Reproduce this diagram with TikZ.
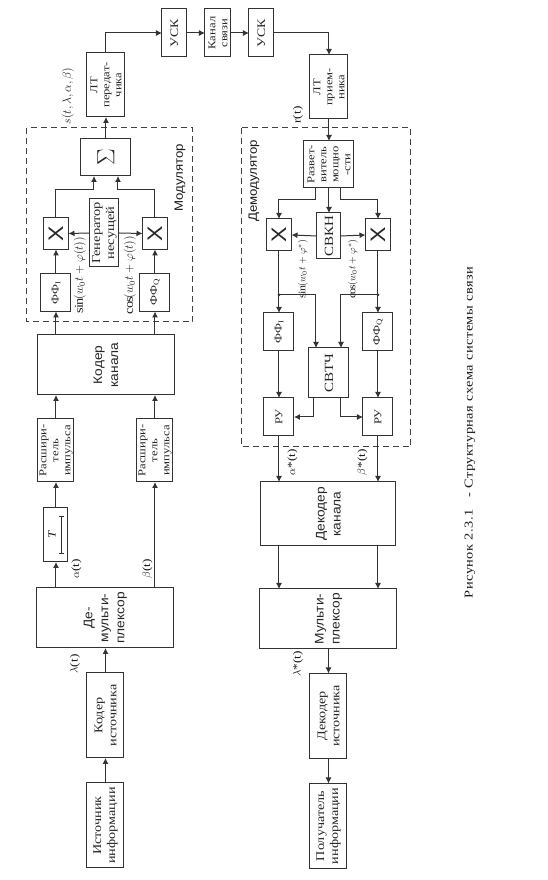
\documentclass[tikz,border=0pt]{standalone}
\usepackage{fontspec}
\setmainfont[FakeStretch=1.2]{Liberation Serif}
\setsansfont[FakeStretch=1.1]{Liberation Sans}
\usepackage{xcolor}
\usepackage{tikz}
\usetikzlibrary{arrows.meta,positioning,calc}
\begin{document}
\begin{tikzpicture}[
  x=1pt, y=1pt, rotate=90, transform shape,
  node distance=24pt and 25pt,
  box/.style={draw=black!80, line width=1pt, align=center, outer sep=0pt, inner sep=1pt, text=black!85, font=\fontsize{10.5}{12}\selectfont},
  srcbox/.style={box, minimum width=85pt, minimum height=37pt, font=\fontsize{11.8}{14}\selectfont},
  bigbox/.style={box, minimum width=60pt, minimum height=137pt, font=\sffamily\fontsize{12.5}{16}\selectfont},
  expbox/.style={box, minimum width=63pt, minimum height=36pt},
  filterbox/.style={box, minimum width=38pt, minimum height=30pt},
  mixbox/.style={box, minimum width=32pt, minimum height=25pt, font=\sffamily\fontsize{21}{21}\selectfont},
  linkbox/.style={box, minimum width=48pt, minimum height=25pt},
  dashbox/.style={draw=black!75, line width=1pt, dash pattern=on 6pt off 4pt, outer sep=0pt},
  sig/.style={inner sep=0pt, text=black!90, font=\fontsize{11}{12}\selectfont},
  arrow/.style={-{Latex[length=6pt,width=6pt]}, draw=black!80, line width=1pt},
  wire/.style={draw=black!80, line width=1pt}
]
\useasboundingbox (0,0) rectangle (880,548);

\node[dashbox, minimum width=194pt, minimum height=166pt] (modbox) at (655,438) {};
\node[dashbox, minimum width=319pt, minimum height=169pt] (dembox) at (592.5,221.5) {};
\node[sig, font=\sffamily\fontsize{12}{13}\selectfont] (modlabel) at (702,368) {Модулятор};
\node[sig, font=\sffamily\fontsize{12}{13}\selectfont] (demlabel) at (699,294) {Демодулятор};

\node[srcbox] (source) at (54.5,442.5) {Источник\\информации};
\node[srcbox, right=25pt of source] (srcenc) {Кодер\\источника};
\node[bigbox, right=25pt of srcenc] (demux) {Де-\\мульти-\\плексор};
\node[box, minimum width=54pt, minimum height=24pt] (delay) at (345,492) {};
\node[sig, font=\itshape\fontsize{11}{12}\selectfont] (delaytxt) at ([yshift=4pt]delay.center) {T};
\node[expbox] (expI) at (429.5,492) {Расшири-\\тель\\импульса};
\node[expbox] (expQ) at (429.5,393) {Расшири-\\тель\\импульса};
\node[bigbox] (chenc) at (515,442) {Кодер\\канала};
\node[filterbox] (ffI) at (587.5,492) {ФФ\textsubscript{I}};
\node[filterbox] (ffQ) at (587.5,393) {ФФ\textsubscript{Q}};
\node[mixbox, right=24pt of ffI] (mixI) {X};
\node[mixbox, right=24pt of ffQ] (mixQ) {X};
\node[box, minimum width=68pt, minimum height=29pt, font=\fontsize{12}{14}\selectfont] (carrier) at (647,443.5) {Генератор\\несущей};
\node[box, minimum width=37pt, minimum height=50pt, font=\fontsize{29}{29}\selectfont] (sum) at (722.5,442) {$\Sigma$};
\node[box, minimum width=64pt, minimum height=38pt, right=22pt of sum] (lttx) {ЛТ\\передат-\\чика};
\node[linkbox, font=\fontsize{11.5}{13}\selectfont] (uskI) at (847,373.5) {УСК};
\node[linkbox, minimum height=26pt] (chan) at (847,330) {Канал\\связи};
\node[linkbox, font=\fontsize{11.5}{13}\selectfont] (uskQ) at (847,286.5) {УСК};

\node[box, minimum width=64pt, minimum height=38pt] (ltrx) at (793,219) {ЛТ\\прием-\\ника};
\node[box, minimum width=47pt, minimum height=50pt, left=22pt of ltrx] (split) {Развет-\\витель\\мощно\\-сти};
\node[box, minimum width=46pt, minimum height=24pt, font=\fontsize{12.5}{14}\selectfont] (pll) at (644,219) {СВКН};
\node[mixbox] (demI) at (645,269) {X};
\node[mixbox] (demQ) at (645,170) {X};
\node[filterbox] (dffI) at (548,269) {ФФ\textsubscript{I}};
\node[filterbox] (dffQ) at (548,170) {ФФ\textsubscript{Q}};
\node[box, minimum width=50pt, minimum height=40pt, font=\fontsize{12.5}{14}\selectfont] (sync) at (507,219) {СВТЧ};
\node[filterbox] (ruI) at (463,269) {РУ};
\node[filterbox] (ruQ) at (463,170) {РУ};
\node[bigbox, minimum width=64pt, minimum height=135pt] (chdec) at (366,219.5) {Декодер\\канала};
\node[bigbox] (mux) at (261,219.5) {Мульти-\\плексор};
\node[srcbox] (srcdec) at (164,219.5) {Декодер\\источника};
\node[srcbox, left=25pt of srcdec] (sink) {Получатель\\информации};

\node[sig, font=\fontsize{12}{13}\selectfont] (sinmod) at (605,468) {$\sin(w_0 t+\varphi(t))$};
\node[sig, font=\fontsize{12}{13}\selectfont] (cosmod) at (605,418) {$\cos(w_0 t+\varphi(t))$};
\node[sig, font=\fontsize{10}{11}\selectfont] (sindem) at (611,245) {$\sin(w_0 t+\varphi^{*})$};
\node[sig, font=\fontsize{10}{11}\selectfont] (cosdem) at (611,195) {$\cos(w_0 t+\varphi^{*})$};
\node[sig, font=\fontsize{12.5}{13}\selectfont] (stx) at (784,480) {$s(t,\lambda,\alpha,\beta)$};
\node[sig] (rrx) at (765,250) {r(t)};

\draw[arrow] (source) -- (srcenc);
\draw[arrow] (srcenc) -- node[sig, pos=.36, above=25pt] (llam) {$\lambda$(t)} (demux);
\draw[arrow] (demux.east |- delay) -- node[sig, pos=.73, below=15pt] (lalpha) {$\alpha$(t)} (delay.west);
\draw[arrow] (delay) -- (expI);
\draw[arrow] (demux.east |- expQ) -- node[sig, pos=.18, above=2pt] (lbeta) {$\beta$(t)} (expQ.west);
\draw[arrow] (expI) -- (chenc.west |- expI);
\draw[arrow] (expQ) -- (chenc.west |- expQ);
\draw[arrow] (chenc.east |- ffI) -- (ffI.west);
\draw[arrow] (chenc.east |- ffQ) -- (ffQ.west);
\draw[arrow] (ffI) -- (mixI);
\draw[arrow] (ffQ) -- (mixQ);
\draw[arrow] (carrier.north) -- (mixI.south);
\draw[arrow] (carrier.south) -- (mixQ.north);
\draw[arrow] (mixI.east) -- ++(28,0) |- ([yshift=12pt]sum.west);
\draw[arrow] (mixQ.east) -- ++(28,0) |- ([yshift=-12pt]sum.west);
\draw[arrow] (sum) -- (lttx);
\draw[arrow] (lttx.east) -| (uskI.north);
\draw[arrow] (uskI) -- (chan);
\draw[arrow] (chan) -- (uskQ);
\draw[arrow] (uskQ.south) |- (ltrx.east);
\draw[arrow] (ltrx) -- (split);
\draw[arrow] (split) -- (pll);
\draw[arrow] ([yshift=13pt]split.west) -- ++(-12,0) |- (demI.east);
\draw[arrow] ([yshift=-12pt]split.west) -- ++(-12,0) |- (demQ.east);
\draw[arrow] (pll.north) -- (demI.south);
\draw[arrow] (pll.south) -- (demQ.north);
\draw[arrow] (demI) -- (dffI);
\draw[arrow] (demQ) -- (dffQ);
\coordinate (jointI) at ([xshift=-44pt]demI.west);
\coordinate (jointQ) at ([xshift=-44pt]demQ.west);
\fill[black!80] (jointI) circle (1.5pt);
\fill[black!80] (jointQ) circle (1.5pt);
\draw[arrow] (jointI) |- ([yshift=13pt]sync.east);
\draw[arrow] (jointQ) |- ([yshift=-12pt]sync.east);
\draw[arrow] (dffI) -- (ruI);
\draw[arrow] (dffQ) -- (ruQ);
\draw[arrow] ([yshift=15pt]sync.west) -| (ruI.south);
\draw[arrow] ([yshift=-12pt]sync.west) -| (ruQ.north);
\draw[arrow] (ruI) -- node[sig, pos=.57, below=8pt] (lalphad) {$\alpha$*(t)} (chdec.east |- ruI);
\draw[arrow] (ruQ) -- node[sig, pos=.57, above=10pt] (lbetad) {$\beta$*(t)} (chdec.east |- ruQ);
\draw[arrow] (chdec.west |- ruI) -- (mux.east |- ruI);
\draw[arrow] (chdec.west |- ruQ) -- (mux.east |- ruQ);
\draw[arrow] (mux) -- node[sig, pos=.6, above=25pt] (llamd) {$\lambda$*(t)} (srcdec);
\draw[arrow] (srcdec) -- (sink);
\draw[wire, {Bar[width=5pt]}-{Bar[width=5pt]}] ([shift={(-19,-6)}]delay.center) -- ++(38,0);

\node[sig, font=\fontsize{12}{13}\selectfont\addfontfeatures{LetterSpace=4}] (caption) at (447.5,78) {Рисунок 2.3.1 \ \ - Структурная схема системы связи};
\end{tikzpicture}
\end{document}
